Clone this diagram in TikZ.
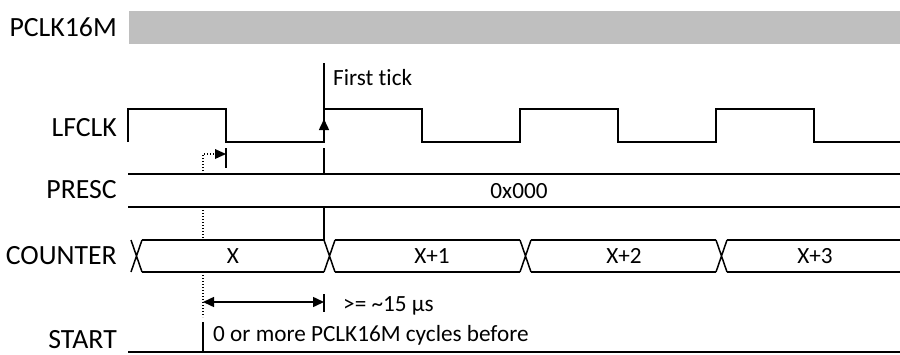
\documentclass[tikz,border=0pt]{standalone}
\usepackage{fontspec}
\setmainfont{Carlito}[Ligatures=NoCommon]
\usetikzlibrary{arrows.meta,positioning}
\definecolor{barfill}{HTML}{BFBFBF}
\tikzset{
  sig/.style={line width=1.5pt, draw=black},
  lbl/.style={anchor=east, inner sep=0pt, font=\fontsize{27.8}{31}\selectfont},
  note/.style={inner sep=0pt, font=\fontsize{23.2}{27}\selectfont},
  tip/.style={-{Triangle[length=11pt,width=10pt]}},
  dots/.style={line width=1.2pt, dash pattern=on 1.2pt off 1.8pt}
}

\begin{document}
\begin{tikzpicture}[x=1pt,y=-1pt]
    \useasboundingbox (0,0) rectangle (900,354);
    % signal names
    \node[lbl] (pclk) at (117,27) {PCLK16M};
    \node[lbl] (lfclk) at (117,128) {LFCLK};
    \node[lbl] (presc) at (117,190) {PRESC};
    \node[lbl] (counter) at (117,256) {COUNTER};
    \node[lbl] (start) at (117,340) {START};
    % PCLK16M
    \fill[barfill] (129,11) rectangle (900,44);
    % LFCLK
    \draw[sig] (128,142) -- (128,109) -- (226,109) -- (226,142) -- (324,142)
      -- (324,109) -- (422,109) -- (422,142) -- (520,142) -- (520,109)
      -- (618,109) -- (618,142) -- (716,142) -- (716,109) -- (814,109)
      -- (814,142) -- (900,142);
    \coordinate (ticktop) at (324,63);
    \coordinate (tickrise) at (324,142);
    \coordinate (tickhead) at (324,119);
    \draw[sig] (ticktop) -- (324,109);
    \draw[sig, tip] (tickrise) -- (tickhead);
    \node[note, anchor=west] (firsttick) at (333,78) {First tick};
    % sync marker
    \coordinate (synca) at (203,174);
    \coordinate (syncb) at (203,154);
    \coordinate (syncc) at (226,154);
    \draw[sig] (226,148) -- (226,168);
    \draw[dots] (synca) -- (syncb) -- ([xshift=-9pt]syncc);
    \fill ([xshift=-11pt,yshift=-5pt]syncc) -- (syncc) -- ([xshift=-11pt,yshift=5pt]syncc) -- cycle;
    \draw[sig] (324,148) -- (324,174);
    % PRESC
    \draw[sig] (128,174) -- (900,174);
    \draw[sig] (128,207) -- (900,207);
    \node[note] (prescval) at (519,191) {0x000};
    \draw[sig] (324,207) -- (324,240);
    \draw[dots] (203,207) -- (203,240);
    % COUNTER
    \foreach \a/\b in {131/142, 324/335, 520/531, 716/727}
      \draw[sig] (\a,240) -- (\b,272) (\a,272) -- (\b,240);
    \foreach \a/\b in {142/324, 335/520, 531/716, 727/900}
      \draw[sig] (\a,240) -- (\b,240) (\a,272) -- (\b,272);
    \node[note] (cx) at (233,256) {X};
    \node[note] (cx1) at (432,256) {X+1};
    \node[note] (cx2) at (624,256) {X+2};
    \node[note] (cx3) at (815,256) {X+3};
    % wait time
    \coordinate (wstart) at (203,302);
    \coordinate (wend) at (324,302);
    \draw[dots] (203,272) -- (203,317);
    \draw[sig] (324,294) -- (324,312);
    \draw[sig, {Triangle[length=11pt,width=10pt]}-{Triangle[length=11pt,width=10pt]}] (wstart) -- (wend);
    \node[note, anchor=west] (wait) at (343,306) {>= \textasciitilde15 µs};
    % START
    \draw[sig] (128,352) -- (900,352);
    \draw[sig] (203,322) -- (203,352);
    \node[note, anchor=west] (cycles) at (213,335) {0 or more PCLK16M cycles before};
\end{tikzpicture}
\end{document}
